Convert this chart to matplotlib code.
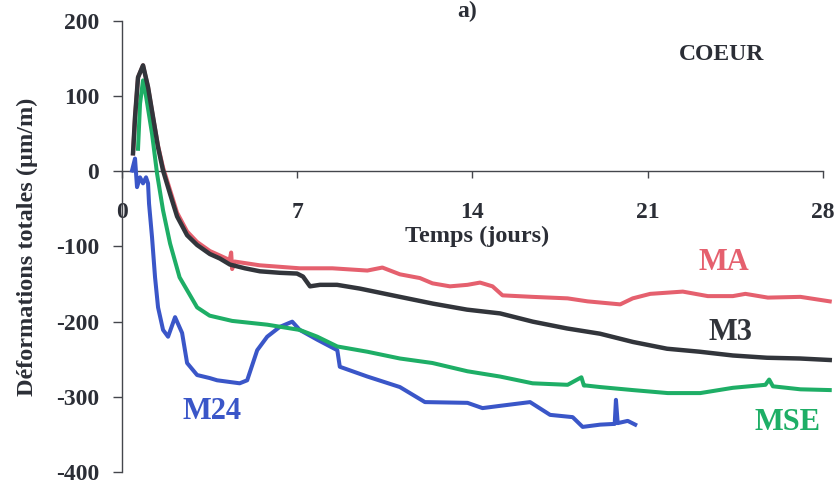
#!/usr/bin/env python
# Deformations totales - coeur (a)

import matplotlib
matplotlib.use('Agg')
import matplotlib.pyplot as plt

# Temps (jours) / deformation (um/m) for each gauge
ma_t = [0.44, 0.52, 0.64, 0.84, 1.04, 1.24, 1.44, 1.64, 1.92, 2.2, 2.6, 3.0, 3.51, 3.91,
        4.3, 4.36, 4.4, 4.5, 5.5, 7.1, 8.4, 9.8, 10.4, 11.1, 11.9, 12.4, 13.1, 13.8, 14.3,
        14.8, 15.2, 16.4, 17.8, 18.6, 19.9, 20.4, 21.1, 22.4, 23.4, 24.4, 24.9, 25.8,
        27.1, 28.27]
ma_v = [24, 72, 125, 141, 112, 72, 34, 5, -25, -55, -80, -94, -106, -112,
        -118, -108, -130, -120, -125, -129, -129, -132, -128, -137, -142, -149, -153, -151, -148,
        -153, -165, -167, -169, -173, -177, -169, -163, -160, -166, -166, -163, -168,
        -167, -173]

m3_t = [0.44, 0.52, 0.64, 0.84, 1.04, 1.24, 1.44, 1.64, 1.92, 2.2, 2.6, 3.0, 3.51, 3.91,
        4.31, 4.91, 5.51, 6.31, 6.99, 7.23, 7.51, 7.91, 8.59, 9.5, 11.1, 12.42, 13.78,
        15.1, 16.41, 17.77, 19.09, 20.41, 21.77, 23.08, 24.4, 25.76, 27.08, 28.27]
m3_v = [24, 72, 125, 141, 112, 72, 32, 1, -30, -60, -85, -98, -110, -116,
        -124, -129, -133, -135, -136, -140, -153, -151, -151, -156, -167, -176, -184,
        -189, -200, -209, -216, -227, -236, -240, -245, -248, -249, -251]

mse_t = [0.64, 0.72, 0.84, 0.96, 1.2, 1.4, 1.64, 1.92, 2.3, 3.0, 3.5, 4.4, 5.8, 7.1,
         7.8, 8.6, 9.8, 11.1, 12.4, 13.8, 15.1, 16.4, 17.8, 18.35, 18.45, 18.55, 19.1,
         20.4, 21.8, 23.1, 24.4, 25.7, 25.85, 26.0, 27.1, 28.27]
mse_v = [30, 90, 121, 100, 50, -3, -52, -96, -141, -181, -192, -199, -204, -211,
         -220, -233, -240, -249, -255, -266, -273, -282, -284, -274, -285, -285, -287,
         -291, -295, -295, -288, -284, -277, -286, -290, -291]

m24_t = [0.4, 0.52, 0.6, 0.72, 0.84, 0.96, 1.04, 1.08, 1.2, 1.32, 1.44, 1.64, 1.84,
         2.12, 2.4, 2.6, 3.0, 3.5, 3.8, 4.7, 5.0, 5.4, 5.8, 6.3, 6.8, 7.1, 7.8, 8.6,
         8.7, 9.8, 11.1, 12.1, 13.8, 14.4, 15.1, 16.3, 17.1, 18.0, 18.4, 19.1, 19.68,
         19.73, 19.8, 20.2, 20.5]
m24_v = [1, 17, -21, -8, -16, -8, -16, -43, -88, -141, -181, -211, -220,
         -194, -215, -255, -271, -275, -278, -282, -278, -238, -220, -207, -200, -211, -224, -238,
         -260, -273, -287, -307, -308, -315, -312, -307, -324, -327, -340, -337, -336,
         -304, -335, -332, -337]

xticks = [0, 7, 14, 21, 28]
yticks = [-400, -300, -200, -100, 0, 100, 200]

col_ma = '#e5606e'
col_m3 = '#32353b'
col_mse = '#1eae66'
col_m24 = '#3a56c8'
col_txt = '#2b2e36'

plt.rcParams['font.family'] = ['Liberation Serif', 'DejaVu Serif']
plt.rcParams['font.weight'] = 'bold'

fig = plt.figure(figsize=(8.37, 4.88), dpi=100)
ax = fig.add_axes([122/837., 1-472/488., (833-122)/837., (472-21)/488.])

ax.plot(ma_t, ma_v, color=col_ma, lw=2.9, zorder=2, solid_joinstyle='round')
ax.plot(m24_t, m24_v, color=col_m24, lw=2.9, zorder=3, solid_joinstyle='round')
ax.plot(mse_t, mse_v, color=col_mse, lw=2.9, zorder=4, solid_joinstyle='round')
ax.plot(m3_t, m3_v, color=col_m3, lw=3.2, zorder=5, solid_joinstyle='round')

ax.set_xlim(0, 28.4)
ax.set_ylim(-400, 200)

ax.spines['top'].set_visible(False)
ax.spines['right'].set_visible(False)
ax.spines['bottom'].set_position(('data', 0))
ax.spines['bottom'].set_bounds(0, 28)
for s in ('left', 'bottom'):
    ax.spines[s].set_color('#44464c')
    ax.spines[s].set_linewidth(1.0)

ax.set_xticks(xticks)
ax.set_xticklabels([str(t) for t in xticks])
ax.set_yticks(yticks)
ax.set_yticklabels([str(t) for t in yticks])
ax.tick_params(axis='x', direction='out', length=5, width=1, pad=17,
               labelsize=17, colors='#44464c', labelcolor=col_txt)
ax.tick_params(axis='y', direction='out', length=6.5, width=1, pad=10,
               labelsize=17, colors='#44464c', labelcolor=col_txt)
for lab in ax.get_xticklabels() + ax.get_yticklabels():
    lab.set_fontweight('bold')

ax.set_ylabel('Déformations totales (µm/m)', fontsize=17.5, fontweight='bold',
              color=col_txt)
ax.yaxis.set_label_coords(-(122-38)/711., 0.5)

ax.text(14.2, -87, 'Temps (jours)', fontsize=17.5, fontweight='bold', color=col_txt,
        ha='center', va='center')
ax.text(23.95, 156, 'COEUR', fontsize=17, fontweight='bold', color=col_txt,
        ha='center', va='center')
ax.text(13.8, 205, 'a)', fontsize=17, fontweight='bold', color=col_txt,
        ha='center', va='baseline', clip_on=False)

# Curve names
ax.text(24.05, -121, 'MA', fontsize=22, fontweight='bold', color=col_ma,
        ha='center', va='center')
ax.text(24.3, -214, 'M3', fontsize=22, fontweight='bold', color=col_m3,
        ha='center', va='center')
ax.text(26.6, -334, 'MSE', fontsize=22, fontweight='bold', color=col_mse,
        ha='center', va='center')
ax.text(3.6, -320, 'M24', fontsize=22, fontweight='bold', color=col_m24,
        ha='center', va='center')

fig.savefig('out.png', dpi=100)
